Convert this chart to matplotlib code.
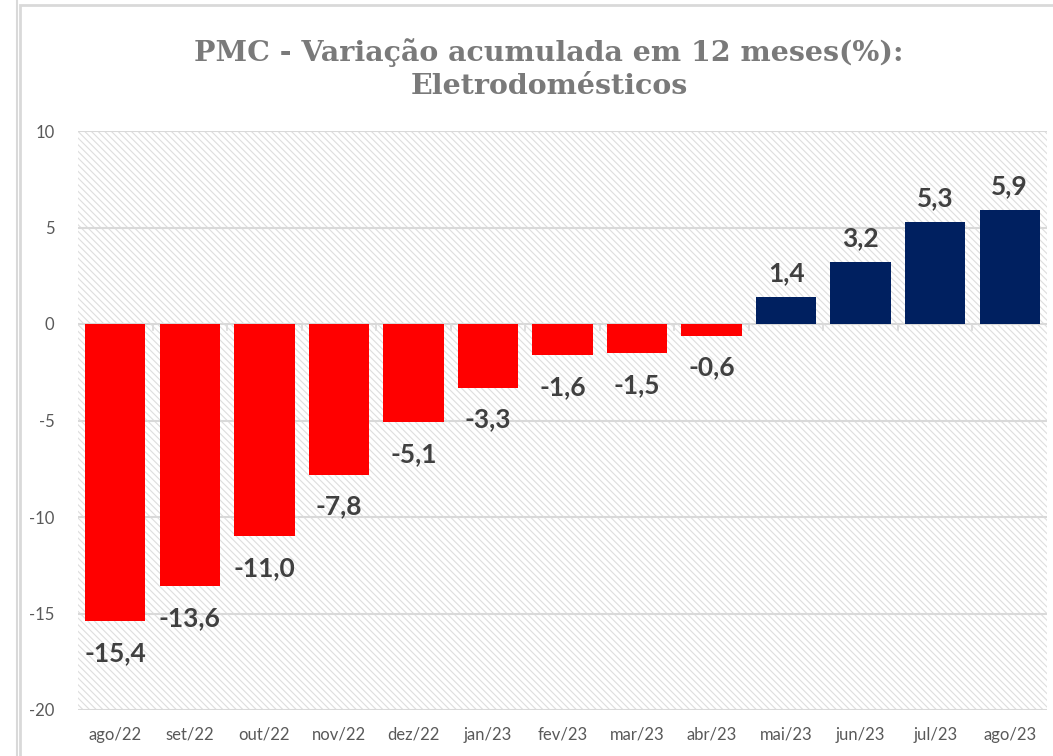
import matplotlib
matplotlib.use("Agg")
import matplotlib.pyplot as plt
from matplotlib.patches import Rectangle
from matplotlib.lines import Line2D

categories = ["ago/22", "set/22", "out/22", "nov/22", "dez/22", "jan/23", "fev/23",
              "mar/23", "abr/23", "mai/23", "jun/23", "jul/23", "ago/23"]
values = [-15.4, -13.6, -11.0, -7.8, -5.1, -3.3, -1.6, -1.5, -0.6, 1.4, 3.2, 5.3, 5.9]
yticks = [10, 5, 0, -5, -10, -15, -20]
title = "PMC - Variação acumulada em 12 meses(%):\nEletrodomésticos"

plt.rcParams["hatch.color"] = "#dedede"
plt.rcParams["hatch.linewidth"] = 0.8

W, H = 1053, 756
fig = plt.figure(figsize=(W / 100, H / 100), dpi=100)
fig.patch.set_facecolor("white")

# chart frame
fig.add_artist(Line2D([17 / W, 17 / W], [0, 1], color="#d9d9d9", lw=1.5, transform=fig.transFigure))
fig.add_artist(Rectangle((20 / W, -0.1), 1.2, (H - 5) / H + 0.1, transform=fig.transFigure,
                         facecolor="none", edgecolor="#d9d9d9", lw=2))

ax = fig.add_axes([78 / W, (H - 710) / H, (1047 - 78) / W, (710 - 131) / H])
ax.set_facecolor("white")
n = len(categories)
ax.set_xlim(-0.5, n - 0.5)
ax.set_ylim(-20, 10)

# hatched background
ax.add_patch(Rectangle((0, 0), 1, 1, transform=ax.transAxes, facecolor="white",
                       edgecolor="#dedede", lw=0, hatch="\\\\\\\\\\", zorder=0))

for y in yticks:
    ax.axhline(y, color="#d9d9d9", lw=1.5, zorder=1)

colors = ["#FF0000" if v < 0 else "#002060" for v in values]
x = list(range(n))
ax.bar(x, values, width=0.81, color=colors, zorder=3)

for xi, v in zip(x, values):
    lab = f"{v:.1f}".replace(".", ",")
    off = -23 if v < 0 else 17
    ax.annotate(lab, (xi, v), xytext=(0, off), textcoords="offset points",
                ha="center", va="center", fontsize=19, fontweight="bold",
                color="#404040", family="Lato", zorder=4)

# category tick marks at zero line
for b in [i - 0.5 for i in range(1, n)]:
    ax.plot([b, b], [0, -0.3], color="#d9d9d9", lw=1.2, zorder=2, clip_on=False)

for s in ax.spines.values():
    s.set_visible(False)

ax.set_yticks(yticks)
ax.set_yticklabels([str(t) for t in yticks], fontsize=12, color="#595959", family="Lato")
ax.tick_params(axis="y", length=0, pad=17)
ax.set_xticks(x)
ax.set_xticklabels(categories, fontsize=12, color="#595959", family="Lato")
ax.tick_params(axis="x", length=0, pad=12)

fig.text(549 / W, 1 - 69 / H, title, ha="center", va="center", fontsize=20.5,
         fontweight="bold", color="#7a7a7a", family="DejaVu Serif", linespacing=1.28)

fig.savefig("out.png", dpi=100)
